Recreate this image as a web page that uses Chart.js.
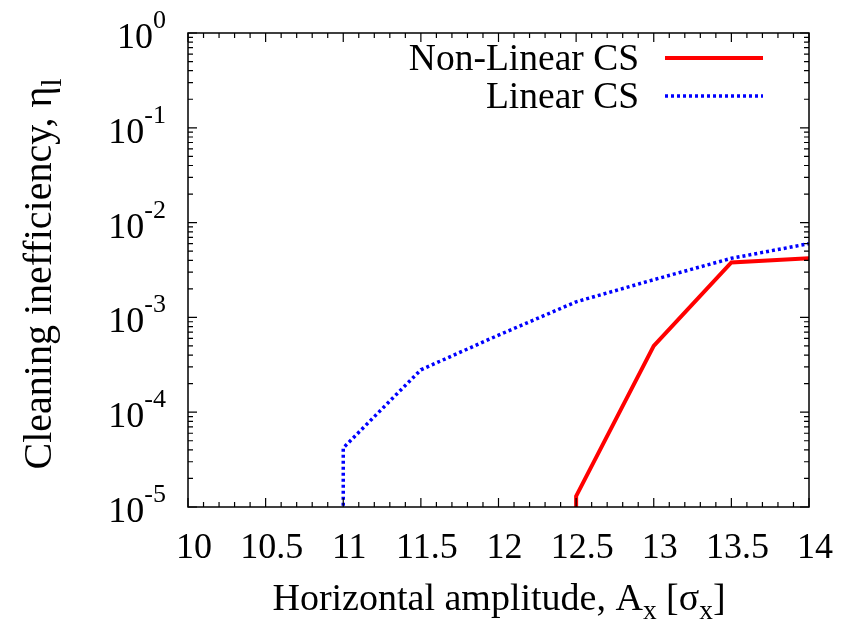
<!DOCTYPE html>
<html>
<head>
<meta charset="utf-8">
<script src="https://cdn.jsdelivr.net/npm/chart.js@4.4.1/dist/chart.umd.min.js"></script>
<style>
  html, body { margin: 0; padding: 0; background: #fff; }
  #wrap { width: 846px; height: 624px; }
</style>
</head>
<body>
<div id="wrap"><canvas id="grafico" width="846" height="624"></canvas></div>
<script>
// datos
const xNoLineal = [12.5, 12.5, 13, 13.5, 14];
const noLineal = [1e-6, 1.3e-5, 5.0e-4, 3.8e-3, 4.2e-3];

const xLineal = [11, 11, 11.5, 12, 12.5, 13, 13.5, 14];
const lineal = [1e-6, 4.2e-5, 2.8e-4, 6.5e-4, 1.46e-3, 2.5e-3, 4.2e-3, 6.0e-3];

const xTicks = ["10", "10.5", "11", "11.5", "12", "12.5", "13", "13.5", "14"];
const yExponentes = [0, -1, -2, -3, -4, -5];

const fuente = "Liberation Serif, Times New Roman, serif";

function puntos(xs, ys) {
  return xs.map((x, i) => ({ x: x, y: ys[i] }));
}

function anchoRico(ctx, partes, size) {
  let w = 0;
  partes.forEach(p => {
    ctx.font = (p.sub ? size * 0.72 : size) + "px " + fuente;
    w += ctx.measureText(p.t).width;
  });
  return w;
}

function dibujarRico(ctx, partes, x, y, size) {
  let cx = x;
  partes.forEach(p => {
    ctx.font = (p.sub ? size * 0.72 : size) + "px " + fuente;
    ctx.fillText(p.t, cx, p.sub ? y + size * 0.24 : y);
    cx += ctx.measureText(p.t).width;
  });
}

const ejes = {
  id: "ejes",
  afterDraw(chart) {
    const ctx = chart.ctx;
    const a = chart.chartArea;
    const sx = chart.scales.x;
    const sy = chart.scales.y;
    ctx.save();
    ctx.strokeStyle = "#000";
    ctx.fillStyle = "#000";
    ctx.lineWidth = 1.5;
    ctx.strokeRect(a.left, a.top, a.right - a.left, a.bottom - a.top);

    ctx.lineWidth = 1.2;
    ctx.beginPath();
    // ticks x
    for (let i = 0; i <= 40; i++) {
      const v = 10 + i * 0.1;
      const px = sx.getPixelForValue(v);
      const len = i % 5 === 0 ? 9 : 5;
      ctx.moveTo(px, a.bottom); ctx.lineTo(px, a.bottom - len);
      ctx.moveTo(px, a.top); ctx.lineTo(px, a.top + len);
    }
    // ticks y
    yExponentes.forEach(e => {
      for (let m = 1; m <= 9; m++) {
        if (e === 0 && m > 1) continue;
        const v = m * Math.pow(10, e);
        const py = sy.getPixelForValue(v);
        const len = m === 1 ? 9 : 5;
        ctx.moveTo(a.left, py); ctx.lineTo(a.left + len, py);
        ctx.moveTo(a.right, py); ctx.lineTo(a.right - len, py);
      }
    });
    ctx.stroke();

    // etiquetas x
    ctx.font = "36px " + fuente;
    ctx.textAlign = "center";
    ctx.textBaseline = "alphabetic";
    xTicks.forEach(t => {
      ctx.fillText(t, sx.getPixelForValue(parseFloat(t)) + 6, 558);
    });

    // etiquetas y (10 a la potencia)
    ctx.textAlign = "left";
    yExponentes.forEach(e => {
      const py = sy.getPixelForValue(Math.pow(10, e));
      ctx.font = "36px " + fuente;
      const wBase = ctx.measureText("10").width;
      ctx.font = "26px " + fuente;
      const exp = String(e);
      const wExp = ctx.measureText(exp).width;
      const x0 = 166 - wBase - wExp;
      ctx.font = "36px " + fuente;
      ctx.fillText("10", x0, py + 15);
      ctx.font = "26px " + fuente;
      ctx.fillText(exp, x0 + wBase, py - 5);
    });

    // titulo x
    const tx = [
      { t: "Horizontal amplitude, A" }, { t: "x", sub: true },
      { t: " [\u03c3" }, { t: "x", sub: true }, { t: "]" }
    ];
    const wx = anchoRico(ctx, tx, 38);
    dibujarRico(ctx, tx, 499 - wx / 2, 610, 38);

    // titulo y
    const ty = [{ t: "Cleaning inefficiency, \u03b7" }, { t: "l", sub: true }];
    const wy = anchoRico(ctx, ty, 40);
    ctx.translate(51, 274);
    ctx.rotate(-Math.PI / 2);
    dibujarRico(ctx, ty, -wy / 2, 0, 40);
    ctx.restore();

    // leyenda
    ctx.save();
    ctx.font = "37.5px " + fuente;
    ctx.textAlign = "right";
    ctx.fillStyle = "#000";
    chart.data.datasets.forEach((d, i) => {
      const y = 58 + i * 38;
      ctx.fillText(d.label, 639, y + 12);
      ctx.strokeStyle = d.borderColor;
      ctx.lineWidth = d.borderWidth;
      ctx.setLineDash(d.borderDash || []);
      ctx.beginPath();
      ctx.moveTo(665, y);
      ctx.lineTo(763, y);
      ctx.stroke();
    });
    ctx.restore();
  }
};

new Chart(document.getElementById("grafico"), {
  type: "scatter",
  data: {
    datasets: [
      {
        label: "Non-Linear CS",
        data: puntos(xNoLineal, noLineal),
        showLine: true,
        borderColor: "#ff0000",
        borderWidth: 4,
        pointRadius: 0,
        tension: 0
      },
      {
        label: "Linear CS",
        data: puntos(xLineal, lineal),
        showLine: true,
        borderColor: "#0000ff",
        borderWidth: 3.5,
        borderDash: [3, 3],
        pointRadius: 0,
        tension: 0
      }
    ]
  },
  options: {
    responsive: false,
    animation: false,
    devicePixelRatio: 1,
    layout: { padding: { left: 188, right: 37, top: 33, bottom: 117 } },
    plugins: { legend: { display: false }, tooltip: { enabled: false } },
    scales: {
      x: { type: "linear", min: 10, max: 14, display: false },
      y: { type: "logarithmic", min: 1e-5, max: 1, display: false }
    }
  },
  plugins: [ejes]
});
</script>
</body>
</html>
